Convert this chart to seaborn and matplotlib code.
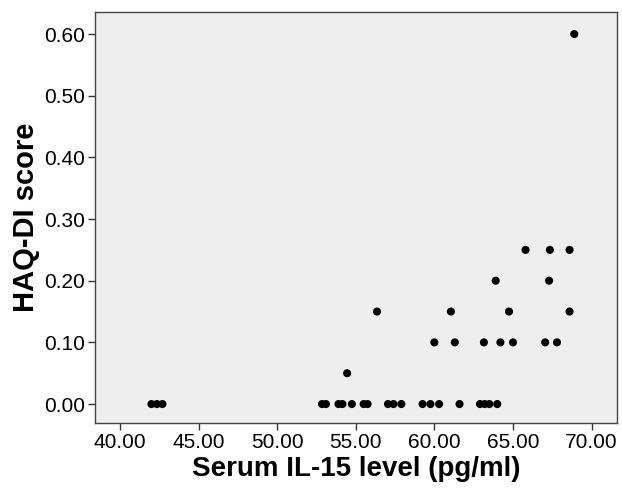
import matplotlib
matplotlib.use('Agg')
import matplotlib.pyplot as plt
import seaborn as sns
import pandas as pd
from matplotlib.ticker import FormatStrFormatter

# values
il15_0 = [42.0, 42.35, 42.7, 52.85, 53.1, 53.9, 54.15, 54.75, 55.5, 55.75,
          57.05, 57.4, 57.9, 59.25, 59.75, 60.3, 61.6, 62.9, 63.2, 63.5, 64.0]
il15_05 = [54.45]
il15_10 = [60.0, 61.3, 63.15, 64.2, 65.0, 67.05, 67.8]
il15_15 = [56.35, 61.05, 64.75, 68.6]
il15_20 = [63.9, 67.3]
il15_25 = [65.8, 67.35, 68.6]
il15_60 = [68.9]

x_ticks = [40, 45, 50, 55, 60, 65, 70]
y_ticks = [0.0, 0.1, 0.2, 0.3, 0.4, 0.5, 0.6]

groups = [(il15_0, 0.00), (il15_05, 0.05), (il15_10, 0.10), (il15_15, 0.15),
          (il15_20, 0.20), (il15_25, 0.25), (il15_60, 0.60)]
df = pd.DataFrame([(x, y) for xs, y in groups for x in xs],
                  columns=['IL15', 'HAQ'])

sns.set_style('white')
plt.rcParams['font.family'] = ['Liberation Sans', 'DejaVu Sans']
plt.rcParams['text.color'] = 'black'
plt.rcParams['axes.labelcolor'] = 'black'
plt.rcParams['xtick.color'] = 'black'
plt.rcParams['ytick.color'] = 'black'

fig = plt.figure(figsize=(6.22, 4.9), dpi=100)
ax = fig.add_axes([0.152, 0.136, 0.84, 0.8395])
ax.set_facecolor('#EEEEEE')

sns.scatterplot(data=df, x='IL15', y='HAQ', color='black', s=34,
                edgecolor='none', ax=ax)

ax.set_xlim(38.38, 71.62)
ax.set_ylim(-0.0313, 0.6357)
ax.set_xticks(x_ticks)
ax.set_yticks(y_ticks)
ax.xaxis.set_major_formatter(FormatStrFormatter('%.2f'))
ax.yaxis.set_major_formatter(FormatStrFormatter('%.2f'))
ax.tick_params(axis='both', direction='out', length=5, width=1,
               color='#333333', labelcolor='black', labelsize=15,
               bottom=True, left=True, pad=2)

for sp in ax.spines.values():
    sp.set_color('#444444')
    sp.set_linewidth(1)

ax.set_xlabel('Serum IL-15 level (pg/ml)', fontsize=20, fontweight='bold',
              labelpad=3)
ax.set_ylabel('HAQ-DI score', fontsize=21, fontweight='bold', labelpad=3)

fig.savefig('out.png', dpi=100)
